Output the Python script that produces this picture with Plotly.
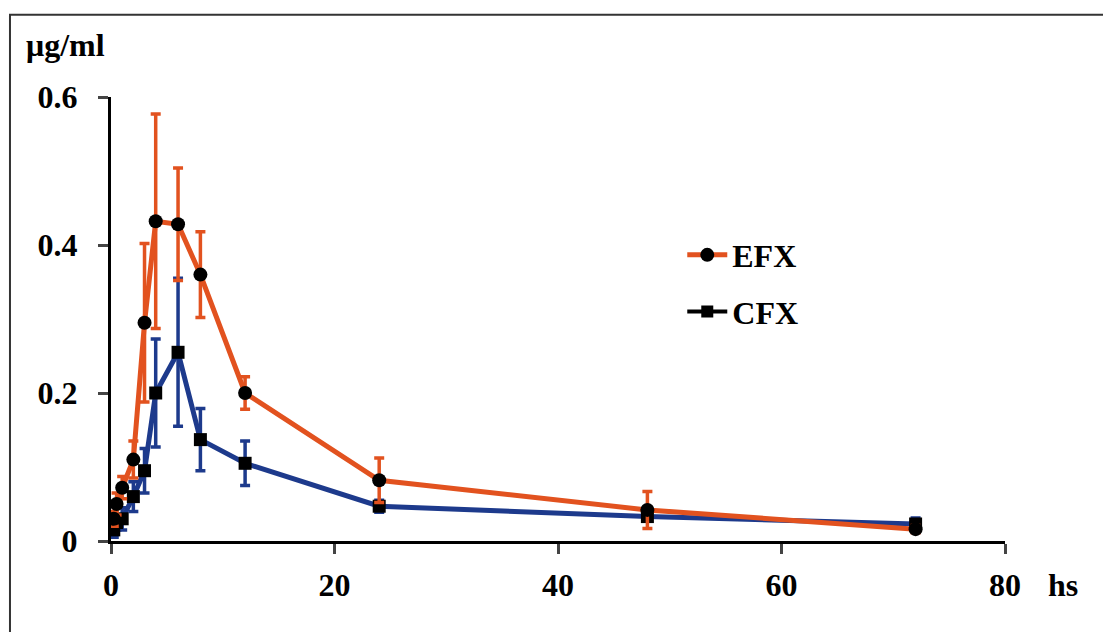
import plotly.graph_objects as go

# Data
time_h = [0.25, 0.5, 1, 2, 3, 4, 6, 8, 12, 24, 48, 72]
efx_mean = [0.03, 0.05, 0.072, 0.11, 0.295, 0.432, 0.428, 0.36, 0.2, 0.082, 0.042, 0.016]
efx_sd = [0.01, 0.015, 0.015, 0.025, 0.107, 0.145, 0.076, 0.058, 0.022, 0.03, 0.025, 0.005]
cfx_mean = [0.015, 0.025, 0.03, 0.06, 0.095, 0.2, 0.255, 0.137, 0.105, 0.047, 0.033, 0.023]
cfx_sd = [0.01, 0.01, 0.015, 0.02, 0.03, 0.073, 0.1, 0.042, 0.03, 0.008, 0.006, 0.008]

x_ticks = [0, 20, 40, 60, 80]
y_ticks = [0, 0.2, 0.4, 0.6]
y_tick_text = ["0", "0.2", "0.4", "0.6"]

ORANGE = "#E2521F"
BLUE = "#1D3A8C"
FONT = "Liberation Serif"

fig = go.Figure()

fig.add_trace(go.Scatter(
    x=time_h, y=cfx_mean, mode="lines+markers", name="CFX", showlegend=False,
    line=dict(color=BLUE, width=5),
    marker=dict(symbol="square", size=13, color="black"),
    error_y=dict(type="data", array=cfx_sd, color=BLUE, thickness=3.5, width=5),
))
fig.add_trace(go.Scatter(
    x=time_h, y=efx_mean, mode="lines+markers", name="<b>EFX</b>", showlegend=True,
    legendgroup="efx",
    line=dict(color=ORANGE, width=5),
    marker=dict(symbol="circle", size=14, color="black"),
    error_y=dict(type="data", array=efx_sd, color=ORANGE, thickness=3.5, width=5),
))
# legend-only entry for CFX (black line in the reference legend)
fig.add_trace(go.Scatter(
    x=[None], y=[None], mode="lines+markers", name="<b>CFX</b>", showlegend=True,
    legendgroup="cfx",
    line=dict(color="black", width=4),
    marker=dict(symbol="square", size=12, color="black"),
))

fig.update_layout(
    width=1111, height=632,
    margin=dict(l=103, r=114, t=89, b=99),
    paper_bgcolor="white", plot_bgcolor="white",
    font=dict(family=FONT, size=32, color="black"),
    legend=dict(x=0.639, y=0.706, xanchor="left", yanchor="top",
                font=dict(family=FONT, size=32, color="black"),
                bgcolor="rgba(0,0,0,0)", itemwidth=40, tracegroupgap=12),
    showlegend=True,
)
fig.update_xaxes(
    range=[0, 80], tickvals=x_ticks, ticktext=["<b>%d</b>" % v for v in x_ticks],
    ticks="outside", ticklen=10, tickwidth=3, ticklabelstandoff=4,
    showline=True, linecolor="black", linewidth=3, showgrid=False, zeroline=False,
    tickfont=dict(family=FONT, size=32, color="black"),
)
fig.update_yaxes(
    range=[0, 0.6], tickvals=y_ticks, ticktext=["<b>%s</b>" % t for t in y_tick_text],
    ticks="outside", ticklen=10, tickwidth=3, showline=True, linecolor="black",
    linewidth=3, showgrid=False, zeroline=False, ticklabelstandoff=14,
    tickfont=dict(family=FONT, size=32, color="black"),
)
fig.add_annotation(text="<b>μg/ml</b>", xref="paper", yref="paper", x=-0.097, y=1.117,
                   xanchor="left", yanchor="middle", showarrow=False,
                   font=dict(family=FONT, size=32, color="black"))
fig.add_annotation(text="<b>hs</b>", xref="paper", yref="paper", x=1.046, y=-0.099,
                   xanchor="left", yanchor="middle", showarrow=False,
                   font=dict(family=FONT, size=32, color="black"))
fig.add_shape(type="rect", xref="paper", yref="paper", x0=-0.113, y0=-0.3,
              x1=1.2, y1=1.185, line=dict(color="#333333", width=2))

fig.write_html("out.html")
